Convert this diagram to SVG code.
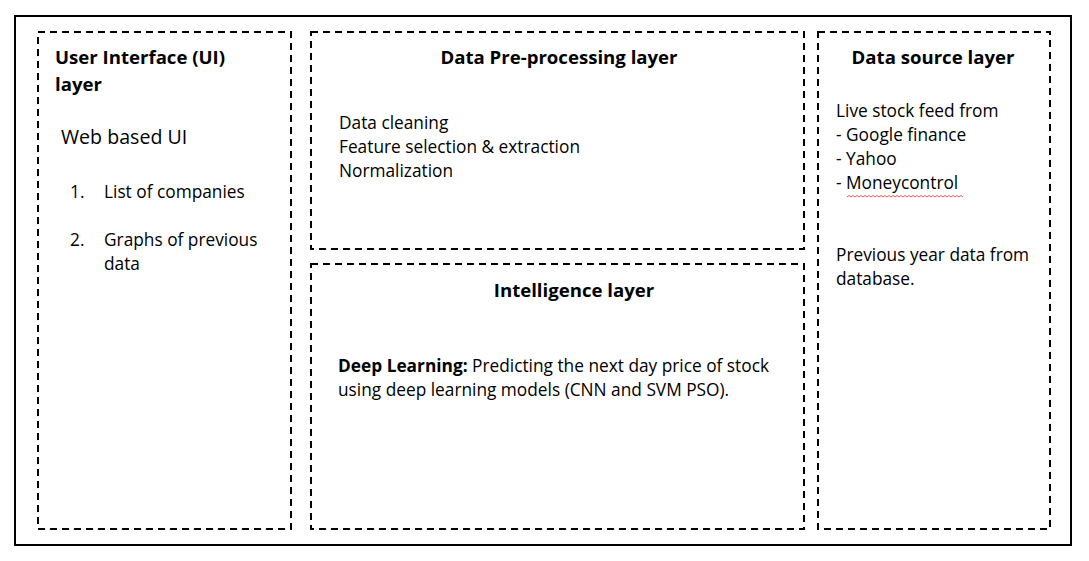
<svg xmlns="http://www.w3.org/2000/svg" width="1089" height="561" viewBox="0 0 1089 561">
<style>
.dash{fill:none;stroke:#000;stroke-width:2;stroke-dasharray:7 5}
text{font-family:"Open Sans","Noto Sans",sans-serif;font-size:17.3px;fill:#000}
.b{font-weight:bold;font-size:18.6px}
.big{font-size:19.6px}
</style>
<rect width="1089" height="561" fill="#fff"/>
<rect x="15" y="16" width="1056" height="529" fill="none" stroke="#000" stroke-width="2"/>
<g id="ui">
<rect class="dash" x="38" y="32" width="253" height="497"/>
<text class="b" x="55" y="64">User Interface (UI)</text>
<text class="b" x="55" y="91">layer</text>
<text class="big" x="61" y="144">Web based UI</text>
<text x="70" y="198">1.</text><text x="104" y="198">List of companies</text>
<text x="70" y="246">2.</text><text x="104" y="246">Graphs of previous</text>
<text x="104" y="270">data</text>
</g>
<g id="preprocessing">
<rect class="dash" x="311" y="32" width="493" height="217"/>
<text class="b" x="559" y="64" text-anchor="middle">Data Pre-processing layer</text>
<text x="339" y="129">Data cleaning</text>
<text x="339" y="153">Feature selection &amp; extraction</text>
<text x="339" y="177">Normalization</text>
</g>
<g id="intelligence">
<rect class="dash" x="311" y="264" width="493" height="265"/>
<text class="b" x="574" y="297" text-anchor="middle">Intelligence layer</text>
<text x="338" y="372"><tspan font-weight="bold">Deep Learning:</tspan> Predicting the next day price of stock</text>
<text x="338" y="396">using deep learning models (CNN and SVM PSO).</text>
</g>
<g id="datasource">
<rect class="dash" x="818" y="32" width="232" height="497"/>
<text class="b" x="933" y="64" text-anchor="middle">Data source layer</text>
<text x="836" y="117">Live stock feed from</text>
<text x="836" y="141">- Google finance</text>
<text x="836" y="165">- Yahoo</text>
<text x="836" y="189">- Moneycontrol</text>
<path d="M847 197 l2 -1.5 l2 1.5 l2 -1.5 l2 1.5 l2 -1.5 l2 1.5 l2 -1.5 l2 1.5 l2 -1.5 l2 1.5 l2 -1.5 l2 1.5 l2 -1.5 l2 1.5 l2 -1.5 l2 1.5 l2 -1.5 l2 1.5 l2 -1.5 l2 1.5 l2 -1.5 l2 1.5 l2 -1.5 l2 1.5 l2 -1.5 l2 1.5 l2 -1.5 l2 1.5 l2 -1.5 l2 1.5 l2 -1.5 l2 1.5 l2 -1.5 l2 1.5 l2 -1.5 l2 1.5 l2 -1.5 l2 1.5 l2 -1.5 l2 1.5 l2 -1.5 l2 1.5 l2 -1.5 l2 1.5 l2 -1.5 l2 1.5 l2 -1.5 l2 1.5 l2 -1.5 l2 1.5 l2 -1.5 l2 1.5 l2 -1.5 l2 1.5 l2 -1.5 l2 1.5 l2 -1.5 l2 1.5" fill="none" stroke="#e03030" stroke-width="0.8"/>
<text x="836" y="261">Previous year data from</text>
<text x="836" y="285">database.</text>
</g>
</svg>
